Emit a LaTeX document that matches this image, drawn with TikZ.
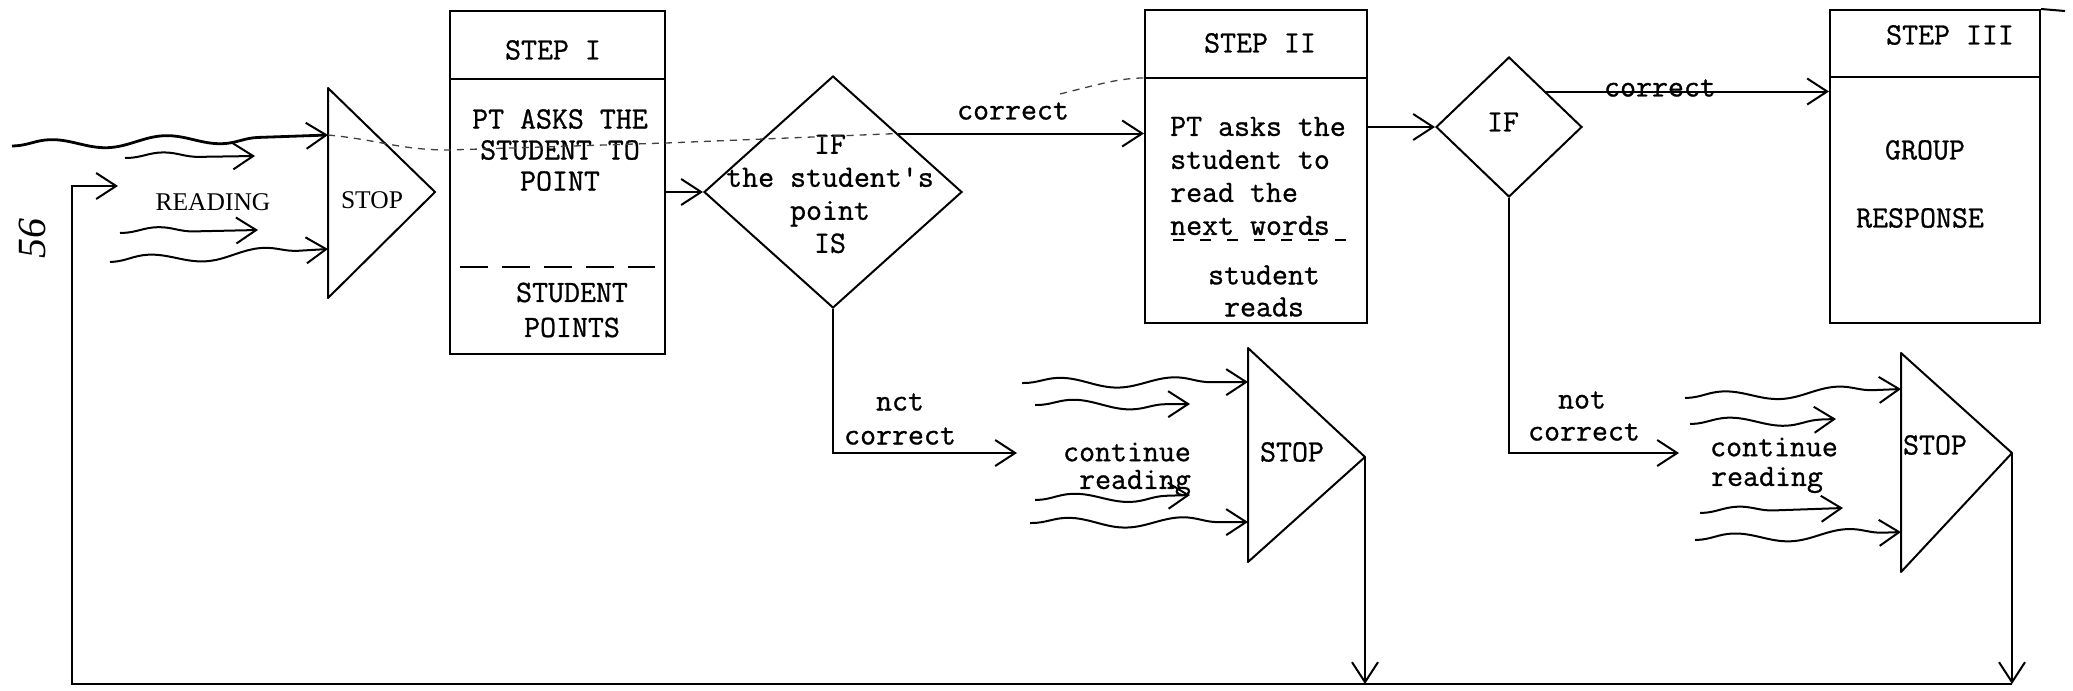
\documentclass[tikz,border=0pt]{standalone}
\usepackage{fontspec}
\setmainfont{Liberation Serif}
\newfontfamily\tw[FakeBold=0.9]{Latin Modern Mono}
\usetikzlibrary{arrows.meta,shapes.geometric,decorations.pathmorphing}
\begin{document}
\begin{tikzpicture}[x=1pt,y=-1pt,
  lw/.style={line width=2pt},
  tip/.style={-{Straight Barb[length=20pt,width=26pt,line width=2pt]}},
  stepbox/.style={draw,line width=2pt,inner sep=0pt},
  dia/.style={draw,diamond,line width=2pt,inner sep=0pt},
  tt/.style={font=\tw\fontsize{31}{33}\selectfont, align=center, inner sep=0pt},
  rm/.style={font=\fontsize{25.5}{30}\selectfont, inner sep=0pt},
  wave/.style={line width=2pt, decorate, decoration={snake, amplitude=5pt, segment length=115pt, post length=14pt, pre length=2pt}},
  faint/.style={line width=1.3pt, dash pattern=on 7pt off 6pt, black!75},
]
\useasboundingbox (0,0) rectangle (2073,691);

% ---------- boxes ----------
\node[stepbox, minimum width=215, minimum height=343] (s1) at (557.5,182.5) {};
\node[stepbox, minimum width=222, minimum height=313] (s2) at (1256,166.5) {};
\node[stepbox, minimum width=210, minimum height=313] (s3) at (1935,166.5) {};
\draw[lw] (s1.west |- 0,79) -- (s1.east |- 0,79);
\draw[lw] (s2.west |- 0,78) -- (s2.east |- 0,78);
\draw[lw] (s3.west |- 0,77) -- (s3.east |- 0,77);
\draw[lw, dash pattern=on 28pt off 14pt] (460,267) -- (655,267);
\draw[lw, dash pattern=on 11pt off 16pt] (1173,240) -- (1355,240);
\draw[lw] (s3.north east) -- ++(24,2);

% ---------- diamonds ----------
\node[dia, minimum width=258, minimum height=232] (d1) at (833,192) {};
\node[dia, minimum width=146, minimum height=140] (d2) at (1509,127) {};

% ---------- stop triangles ----------
\coordinate (t1a) at (328,88);  \coordinate (t1b) at (328,298);  \coordinate (t1c) at (435,192);
\coordinate (t2a) at (1248,348); \coordinate (t2b) at (1248,562); \coordinate (t2c) at (1365,457);
\coordinate (t3a) at (1901,353); \coordinate (t3b) at (1901,572); \coordinate (t3c) at (2012,453);
\draw[lw, line join=round] (t1a) -- (t1b) -- (t1c) -- cycle;
\draw[lw, line join=round] (t2a) -- (t2b) -- (t2c) -- cycle;
\draw[lw, line join=round] (t3a) -- (t3b) -- (t3c) -- cycle;

% ---------- texts ----------
\node[rm] (stop1) at (372,200) {STOP};
\node[rm] (reading) at (213,202) {READING};
\node[tt] (stop2) at (1292,452) {STOP};
\node[tt] (stop3) at (1935,445) {STOP};

\node[tt] (s1h) at (553,50) {STEP I};
\node[tt, font=\tw\fontsize{31}{31}\selectfont] (s1t) at (560,150) {PT ASKS THE\\STUDENT TO\\POINT};
\node[tt, font=\tw\fontsize{31}{35}\selectfont] (s1b) at (572,310) {STUDENT\\POINTS};

\node[tt] (s2h) at (1260,43) {STEP II};
\node[tt, align=left, anchor=west] (s2t) at (1170,176) {PT asks the\\student to\\read the\\next words};
\node[tt, font=\tw\fontsize{31}{32}\selectfont] (s2b) at (1264,291) {student\\reads};

\node[tt] (s3h) at (1950,35) {STEP III};
\node[tt] (grp) at (1925,150) {GROUP};
\node[tt] (resp) at (1920,218) {RESPONSE};

\node[tt] (d1t) at (830,194) {IF\\the student's\\point\\IS};
\node[tt] (d2t) at (1503,122) {IF};

\node[tt] (lc1) at (1013,111) {correct};
\node[tt] (lc2) at (1660,88) {correct};
\node[tt] (lnc1a) at (900,402) {nct};
\node[tt] (lnc1b) at (900,436) {correct};
\node[tt] (lnc2a) at (1582,400) {not};
\node[tt] (lnc2b) at (1584,432) {correct};
\node[tt] (cr1a) at (1127,452) {continue};
\node[tt] (cr1b) at (1135,483) {reading};
\node[tt] (cr2a) at (1774,447) {continue};
\node[tt] (cr2b) at (1767,480) {reading};

\node[rotate=90, font=\itshape\fontsize{40}{40}\selectfont, inner sep=0pt] (pg) at (32,238) {56};

% ---------- connectors ----------
\coordinate (c1in) at (1017,453);
\coordinate (c2in) at (1679,453);
\coordinate (bl) at (72,684);
\coordinate (loopin) at (118,186);

\draw[lw, tip] (s1.east |- d1.west) -- (d1.west);
\draw[lw, tip] (d1.north east) -- (d1.north east -| s2.west);
\draw[lw, tip] (s2.east |- d2.west) -- (d2.west);
\draw[lw, tip] (d2.north east) -- (d2.north east -| s3.west);
\draw[lw, tip] (d1.south) |- (c1in);
\draw[lw, tip] (d2.south) |- (c2in);
\draw[lw, tip] (t2c) -- (t2c |- bl);
\draw[lw, tip] (t3c) -- (t3c |- bl);
\draw[lw, tip] (t3c |- bl) -- (bl) -- (bl |- loopin) -- (loopin);

% faint traced dashed path
\draw[faint] (t1a |- 0,135) .. controls (380,140) and (400,150) .. (s1.west |- 0,150) -- (s1.east |- 0,143) -- (d1.north east);
\draw[faint] (1060,94) .. controls (1100,84) and (1120,78) .. (s2.west |- 0,78);

% ---------- wavy reading arrows ----------
\coordinate (a1s) at (12,146);   \coordinate (a1e) at (328,135);
\coordinate (a2s) at (125,158);  \coordinate (a2e) at (255,156);
\coordinate (a3s) at (120,233);  \coordinate (a3e) at (258,230);
\coordinate (a4s) at (110,262);  \coordinate (a4e) at (328,249);
\coordinate (b1s) at (1022,383); \coordinate (b1e) at (1248,382);
\coordinate (b2s) at (1035,405); \coordinate (b2e) at (1190,404);
\coordinate (b3s) at (1035,500); \coordinate (b3e) at (1190,495);
\coordinate (b4s) at (1030,523); \coordinate (b4e) at (1248,522);
\coordinate (c1s) at (1685,398); \coordinate (c1e) at (1901,389);
\coordinate (c2s) at (1690,424); \coordinate (c2e) at (1836,419);
\coordinate (c3s) at (1700,513); \coordinate (c3e) at (1843,508);
\coordinate (c4s) at (1695,540); \coordinate (c4e) at (1901,532);

\draw[wave, tip, line width=2.8pt] (a1s) -- (a1e);
\foreach \p in {a2,a3,a4,b1,b2,b3,b4,c1,c2,c3,c4}
  \draw[wave, tip] (\p s) -- (\p e);
\end{tikzpicture}
\end{document}
